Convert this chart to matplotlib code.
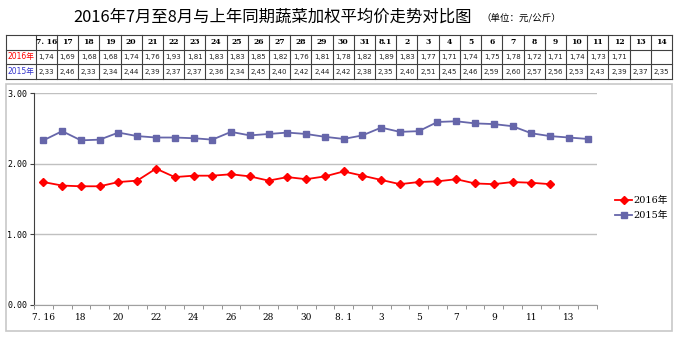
import matplotlib
matplotlib.use("Agg")
import matplotlib.pyplot as plt
from matplotlib.patches import Rectangle

plt.rcParams['font.family'] = ['DejaVu Sans', 'Noto Sans CJK SC']

# 数据
dates = ["7. 16", "17", "18", "19", "20", "21", "22", "23", "24", "25", "26", "27",
         "28", "29", "30", "31", "8.1", "2", "3", "4", "5", "6", "7", "8", "9",
         "10", "11", "12", "13", "14"]
axis_labels = ["7. 16", "18", "20", "22", "24", "26", "28", "30", "8. 1",
               "3", "5", "7", "9", "11", "13"]
price_2016 = [1.74, 1.69, 1.68, 1.68, 1.74, 1.76, 1.93, 1.81, 1.83, 1.83, 1.85, 1.82,
              1.76, 1.81, 1.78, 1.82, 1.89, 1.83, 1.77, 1.71, 1.74, 1.75, 1.78, 1.72,
              1.71, 1.74, 1.73, 1.71]
price_2015 = [2.33, 2.46, 2.33, 2.34, 2.44, 2.39, 2.37, 2.37, 2.36, 2.34, 2.45, 2.40,
              2.42, 2.44, 2.42, 2.38, 2.35, 2.40, 2.51, 2.45, 2.46, 2.59, 2.60, 2.57,
              2.56, 2.53, 2.43, 2.39, 2.37, 2.35]
series_names = ["2016年", "2015年"]

RED = "#FF0000"
BLUE = "#6666AA"
W, H = 680, 337

fig = plt.figure(figsize=(6.8, 3.37), dpi=100)


def fx(px):
    return px / W


def fy(py):
    return 1 - py / H


# 标题
fig.text(fx(73), fy(17), "2016年7月至8月与上年同期蔬菜加权平均价走势对比图",
         ha="left", va="center", fontsize=11.8, family=['Noto Sans CJK SC'])
fig.text(fx(481), fy(18), "（单位：元/公斤）", ha="left", va="center", fontsize=6.8,
         family=['Noto Sans CJK SC'])

# 数据表
tab_l, tab_r, tab_t, tab_b = 6, 672, 35, 79
tax = fig.add_axes([fx(tab_l), fy(tab_b), fx(tab_r - tab_l), (tab_b - tab_t) / H])
first_w = 1.4
ncol = len(dates)
tax.set_xlim(0, first_w + ncol)
tax.set_ylim(3, 0)
tax.axis("off")
for r in range(4):
    tax.plot([0, first_w + ncol], [r, r], color="#404040", lw=0.8, clip_on=False)
tax.plot([0, 0], [0, 3], color="#404040", lw=0.8, clip_on=False)
for c in range(ncol + 1):
    tax.plot([first_w + c] * 2, [0, 3], color="#404040", lw=0.8, clip_on=False)
tax.text(first_w / 2, 1.5, series_names[0], ha="center", va="center", fontsize=5.5, color=RED)
tax.text(first_w / 2, 2.5, series_names[1], ha="center", va="center", fontsize=5.5, color="#3333CC")
for i, d in enumerate(dates):
    x = first_w + i + 0.5
    tax.text(x, 0.5, d, ha="center", va="center", fontsize=5.5, fontweight="bold",
             family=['DejaVu Serif'])
    if i < len(price_2016):
        tax.text(x, 1.5, f"{price_2016[i]:.2f}".replace(".", ","), ha="center", va="center",
                 fontsize=5, color="#202020")
    tax.text(x, 2.5, f"{price_2015[i]:.2f}".replace(".", ","), ha="center", va="center",
             fontsize=5, color="#202020")

# 图表外框
fig.patches.append(Rectangle((fx(6), fy(331)), fx(666), 247 / H, transform=fig.transFigure,
                             fill=False, edgecolor="#C8C8C8", lw=1.2))

# 折线图
ax = fig.add_axes([fx(34), fy(305), fx(597 - 34), (305 - 93) / H])
x16 = list(range(len(price_2016)))
x15 = list(range(len(price_2015)))
ax.plot(x16, price_2016, color=RED, marker="D", markersize=4, lw=1.3, label=series_names[0])
ax.plot(x15, price_2015, color=BLUE, marker="s", markersize=5, lw=1.3, label=series_names[1])
ax.set_xlim(-0.5, ncol - 0.5)
ax.set_ylim(0, 3)
ax.set_yticks([0, 1, 2, 3])
ax.set_yticklabels(["0.00", "1.00", "2.00", "3.00"], family=['DejaVu Sans Mono'], fontsize=6)
ax.yaxis.grid(True, color="#C0C0C0", lw=1.0)
ax.set_axisbelow(True)
ax.set_xticks(range(0, ncol, 2))
ax.set_xticklabels(axis_labels, family=['DejaVu Serif'], fontsize=6.5)
ax.set_xticks([i - 0.5 for i in range(ncol + 1)], minor=True)
ax.tick_params(axis="x", which="major", length=0, pad=6)
ax.tick_params(axis="x", which="minor", length=3, color="#808080", direction="out")
ax.tick_params(axis="y", length=3, color="#404040", pad=2)
for s in ["top", "right"]:
    ax.spines[s].set_visible(False)
ax.spines["left"].set_color("#404040")
ax.spines["bottom"].set_color("#A0A0A0")

fig.legend(loc="center left", bbox_to_anchor=(fx(606), fy(208)), frameon=False,
           handlelength=1.8, handletextpad=0.15, labelspacing=0.6,
           prop={'family': ['DejaVu Serif', 'Noto Sans CJK SC'], 'size': 7})

fig.savefig("out.png", dpi=100)
